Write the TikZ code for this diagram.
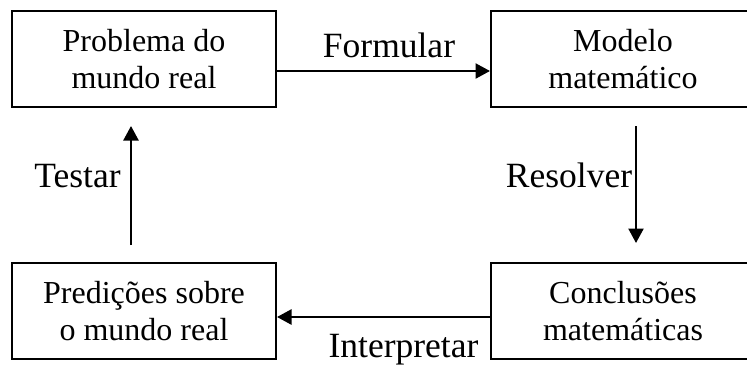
\documentclass[tikz,border=0pt]{standalone}
\usepackage{fontspec}
\setmainfont{Liberation Serif}
\usetikzlibrary{arrows.meta}
\begin{document}
\begin{tikzpicture}[x=1pt,y=-1pt,
  box/.style={draw=black,line width=2pt,minimum width=264pt,minimum height=96pt,
    inner sep=0pt,align=center,font=\fontsize{32}{37.5}\selectfont},
  lbl/.style={anchor=base,inner sep=0pt,font=\fontsize{35.5}{40}\selectfont},
  arr/.style={line width=2.4pt,-{Triangle[length=14.5pt,width=15pt]}}]
\useasboundingbox[fill=white] (0,0) rectangle (747,365);
\node[box] (tl) at (144,59) {Problema do\\mundo real};
\node[box] (tr) at (623,59) {Modelo\\matemático};
\node[box] (bl) at (144,311) {Predições sobre\\o mundo real};
\node[box] (br) at (623,311) {Conclusões\\matemáticas};
\coordinate (r1) at (636,126);
\coordinate (r2) at (636,243);
\coordinate (t1) at (131,245);
\coordinate (t2) at (131,126);
\draw[arr] (tl.east |- 0,71) -- (tr.west |- 0,71);
\draw[arr] (r1) -- (r2);
\draw[arr] (br.west |- 0,317) -- (bl.east |- 0,317);
\draw[arr] (t1) -- (t2);
\node[lbl] (lf) at (389,57) {Formular};
\node[lbl] (lr) at (569,187) {Resolver};
\node[lbl] (lt) at (77.5,187) {Testar};
\node[lbl] (li) at (403.5,357) {Interpretar};
\end{tikzpicture}
\end{document}
